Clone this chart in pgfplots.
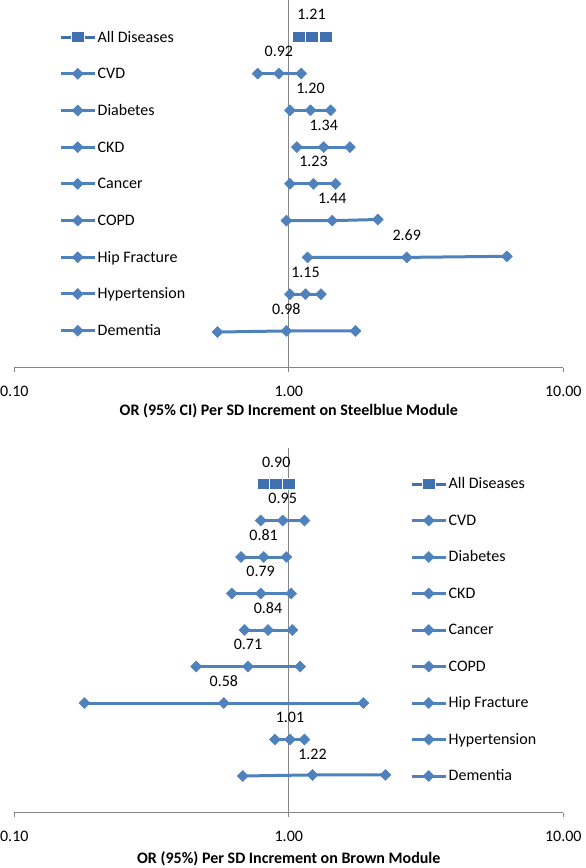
\documentclass[border=0pt]{standalone}
\usepackage{pgfplots}
\pgfplotsset{compat=1.18}
\usepackage{fontspec}
\setmainfont{Carlito}
\definecolor{dblue}{HTML}{4F81BD}
\definecolor{sqblue}{HTML}{4170B0}
\definecolor{axgray}{HTML}{868686}

\pgfplotsset{
 legend image code/.code={\draw[mark repeat=2,mark phase=2,#1] plot coordinates {(0pt,0pt)(17pt,0pt)(34pt,0pt)};},
 ser/.style={dblue, line width=3pt, mark=diamond*, mark size=5.5pt, mark options={xscale=1.33, solid, fill=dblue, draw=dblue, line width=0.5pt}},
 allser/.style={sqblue, line width=3pt, mark=square*, mark size=6.5pt, mark options={yscale=0.85, fill=sqblue, draw=white, line width=0.6pt}},
 labs/.style={draw=none, mark=none, forget plot, nodes near coords, point meta=explicit symbolic,
   nodes near coords style={anchor=center, yshift=22pt, text=black}},
}

\begin{document}
\begin{tikzpicture}[font=\fontsize{16}{19}\selectfont]
\useasboundingbox (0,0) rectangle (586pt,-868pt);

% ---------------- Top: Steelblue module
\begin{axis}[xmode=log, xmin=0.1, xmax=10, ymin=0, ymax=10,
  scale only axis, width=549pt, height=367.7pt, at={(14.3pt,-367.7pt)}, anchor=south west,
  axis x line=bottom, axis y line=none,
  axis line style={axgray, line width=0.8pt, -},
  xtick={0.1,1,10}, xticklabels={0.10,1.00,10.00},
  xminorticks=false,
  tick style={axgray, line width=0.8pt},
  xtick align=outside, major tick length=4pt,
  /pgf/number format/assume math mode=true,
  xticklabel style={anchor=center, yshift=-20pt, text=black},
  clip=false,
  legend cell align=left,
  xlabel={OR (95\% CI) Per SD Increment on Steelblue Module},
  xlabel style={at={(axis description cs:0.5,0)}, anchor=center, yshift=-43pt, font=\fontsize{16}{19}\selectfont\bfseries},
  legend style={draw=none, fill=none, inner sep=0pt, row sep=0pt, column sep=0pt,
    nodes={inner xsep=1.5pt, inner ysep=0pt, text height=23.3pt, text depth=13.4pt},
    at={(axis cs:0.1455,5)}, anchor=west}]
\draw[axgray, line width=0.8pt] (axis cs:1,0) -- (axis cs:1,10);
\addplot[allser] coordinates {(1.09,9) (1.21,9) (1.36,9)}; \addlegendentry{All Diseases}
\addplot[ser] coordinates {(0.77,8) (0.92,8) (1.11,8)}; \addlegendentry{CVD}
\addplot[ser] coordinates {(1.01,7) (1.20,7) (1.42,7)}; \addlegendentry{Diabetes}
\addplot[ser] coordinates {(1.07,6) (1.34,6) (1.67,6)}; \addlegendentry{CKD}
\addplot[ser] coordinates {(1.01,5) (1.23,5) (1.48,5)}; \addlegendentry{Cancer}
\addplot[ser] coordinates {(0.98,4) (1.44,4) (2.11,4.03)}; \addlegendentry{COPD}
\addplot[ser] coordinates {(1.17,3) (2.69,3) (6.23,3.03)}; \addlegendentry{Hip Fracture}
\addplot[ser] coordinates {(1.01,2) (1.15,2) (1.31,2)}; \addlegendentry{Hypertension}
\addplot[ser] coordinates {(0.55,0.97) (0.98,1) (1.75,1)}; \addlegendentry{Dementia}
\addplot[labs] table[meta=lab, row sep=\\] {x y lab\\
1.21 9 1.21\\ 0.92 8 0.92\\ 1.20 7 1.20\\ 1.34 6 1.34\\ 1.23 5 1.23\\
1.44 4 1.44\\ 2.69 3 2.69\\ 1.15 2 1.15\\ 0.98 1 0.98\\};
\end{axis}

% ---------------- Bottom: Brown module
\begin{axis}[xmode=log, xmin=0.1, xmax=10, ymin=0, ymax=10,
  scale only axis, width=549pt, height=365pt, at={(14.3pt,-812.5pt)}, anchor=south west,
  axis x line=bottom, axis y line=none,
  axis line style={axgray, line width=0.8pt, -},
  xtick={0.1,1,10}, xticklabels={0.10,1.00,10.00},
  xminorticks=false,
  tick style={axgray, line width=0.8pt},
  xtick align=outside, major tick length=4pt,
  /pgf/number format/assume math mode=true,
  xticklabel style={anchor=center, yshift=-20pt, text=black},
  clip=false,
  legend cell align=left,
  xlabel={OR (95\%) Per SD Increment on Brown Module},
  xlabel style={at={(axis description cs:0.5,0)}, anchor=center, yshift=-46pt, font=\fontsize{16}{19}\selectfont\bfseries},
  legend style={draw=none, fill=none, inner sep=0pt, row sep=0pt, column sep=0pt,
    nodes={inner xsep=1.5pt, inner ysep=0pt, text height=23.1pt, text depth=13.4pt},
    at={(axis cs:2.764,5)}, anchor=west}]
\draw[axgray, line width=0.8pt] (axis cs:1,0) -- (axis cs:1,10);
\addplot[allser] coordinates {(0.81,9) (0.90,9) (1.00,9)}; \addlegendentry{All Diseases}
\addplot[ser] coordinates {(0.79,8) (0.95,8) (1.14,8)}; \addlegendentry{CVD}
\addplot[ser] coordinates {(0.67,7) (0.81,7) (0.98,7)}; \addlegendentry{Diabetes}
\addplot[ser] coordinates {(0.62,6) (0.79,6) (1.02,6)}; \addlegendentry{CKD}
\addplot[ser] coordinates {(0.69,5) (0.84,5) (1.03,5)}; \addlegendentry{Cancer}
\addplot[ser] coordinates {(0.46,4) (0.71,4) (1.10,4)}; \addlegendentry{COPD}
\addplot[ser] coordinates {(0.18,3) (0.58,3) (1.87,3)}; \addlegendentry{Hip Fracture}
\addplot[ser] coordinates {(0.89,2) (1.01,2) (1.14,2)}; \addlegendentry{Hypertension}
\addplot[ser] coordinates {(0.68,1) (1.22,1.03) (2.25,1.03)}; \addlegendentry{Dementia}
\addplot[labs] table[meta=lab, row sep=\\] {x y lab\\
0.90 9 0.90\\ 0.95 8 0.95\\ 0.81 7 0.81\\ 0.79 6 0.79\\ 0.84 5 0.84\\
0.71 4 0.71\\ 0.58 3 0.58\\ 1.01 2 1.01\\ 1.22 1 1.22\\};
\end{axis}
\end{tikzpicture}
\end{document}
